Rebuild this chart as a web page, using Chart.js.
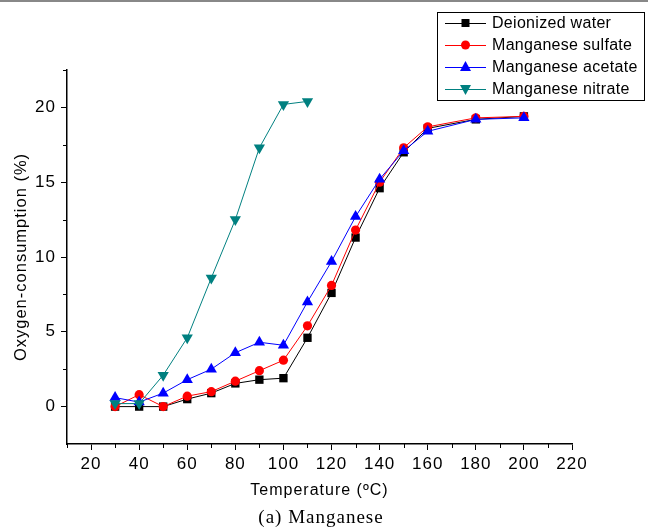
<!DOCTYPE html>
<html>
<head>
<meta charset="utf-8">
<script src="https://cdn.jsdelivr.net/npm/chart.js@4.4.1/dist/chart.umd.min.js"></script>
<style>
  html, body { margin: 0; padding: 0; background: #fff; }
  canvas { display: block; }
</style>
</head>
<body>
<canvas id="line-chart" width="648" height="531"></canvas>
<script>
// temperatures (ºC)
var temps = [30, 40, 50, 60, 70, 80, 90, 100, 110, 120, 130, 140, 150, 160, 180, 200];
var tempsNitrate = [30, 40, 50, 60, 70, 80, 90, 100, 110];

// oxygen consumption (%)
var deionizedWater = [0.0, 0.0, 0.0, 0.5, 0.9, 1.55, 1.8, 1.9, 4.6, 7.6, 11.3, 14.6, 17.0, 18.6, 19.2, 19.4];
var mnSulfate = [0.0, 0.8, 0.0, 0.7, 1.0, 1.7, 2.4, 3.1, 5.4, 8.1, 11.8, 15.0, 17.3, 18.7, 19.3, 19.4];
var mnAcetate = [0.6, 0.3, 0.9, 1.8, 2.5, 3.6, 4.3, 4.1, 7.0, 9.7, 12.7, 15.2, 17.1, 18.4, 19.2, 19.3];
var mnNitrate = [0.2, 0.2, 2.1, 4.6, 8.6, 12.5, 17.3, 20.2, 20.4];

var seriesLabels = ['Deionized water', 'Manganese sulfate', 'Manganese acetate', 'Manganese nitrate'];
var xTicks = [20, 40, 60, 80, 100, 120, 140, 160, 180, 200, 220];
var yTicks = [0, 5, 10, 15, 20];

var FONT = 'Arial, "Liberation Sans", sans-serif';

function toPoints(xs, ys) {
    return ys.map(function (v, i) { return { x: xs[i], y: v }; });
}

function drawMarker(ctx, style, x, y, color) {
    ctx.save();
    ctx.fillStyle = color;
    ctx.beginPath();
    if (style === 'rect') {
        ctx.rect(x - 4, y - 4, 8, 8);
    } else if (style === 'circle') {
        ctx.arc(x, y, 4.5, 0, Math.PI * 2);
    } else if (style === 'up') {
        ctx.moveTo(x, y - 6);
        ctx.lineTo(x + 5.5, y + 4);
        ctx.lineTo(x - 5.5, y + 4);
    } else {
        ctx.moveTo(x, y + 6);
        ctx.lineTo(x + 5.5, y - 4);
        ctx.lineTo(x - 5.5, y - 4);
    }
    ctx.closePath();
    ctx.fill();
    ctx.restore();
}

var markerStyles = ['rect', 'circle', 'up', 'down'];
var colors = ['#000000', '#ff0000', '#0000ff', '#008080'];

// minor ticks, legend box, caption
var extras = {
    id: 'extras',
    beforeDraw: function (chart) {
        // the original figure has loosely spaced lettering
        chart.ctx.letterSpacing = '1px';
    },
    afterDraw: function (chart) {
        var ctx = chart.ctx;
        var xs = chart.scales.x, ys = chart.scales.y;
        var area = chart.chartArea;
        ctx.save();
        ctx.strokeStyle = '#000';
        ctx.lineWidth = 1;
        // minor ticks
        [2.5, 7.5, 12.5, 17.5, 22.5].forEach(function (v) {
            var py = Math.round(ys.getPixelForValue(v)) + 0.5;
            ctx.beginPath();
            ctx.moveTo(area.left - 4, py);
            ctx.lineTo(area.left, py);
            ctx.stroke();
        });
        [10, 30, 50, 70, 90, 110, 130, 150, 170, 190, 210].forEach(function (v) {
            var px = Math.round(xs.getPixelForValue(v)) + 0.5;
            ctx.beginPath();
            ctx.moveTo(px, area.bottom);
            ctx.lineTo(px, area.bottom + 4);
            ctx.stroke();
        });

        // top border of the figure
        ctx.strokeStyle = '#888';
        ctx.lineWidth = 2;
        ctx.beginPath();
        ctx.moveTo(0, 1);
        ctx.lineTo(648, 1);
        ctx.stroke();

        // legend
        ctx.strokeStyle = '#000';
        ctx.lineWidth = 1;
        ctx.strokeRect(437.5, 12.5, 207, 88);
        ctx.letterSpacing = '0.3px';
        ctx.font = '16px ' + FONT;
        ctx.textBaseline = 'middle';
        ctx.textAlign = 'left';
        seriesLabels.forEach(function (lab, i) {
            var ly = 23 + i * 22;
            ctx.strokeStyle = colors[i];
            ctx.beginPath();
            ctx.moveTo(445, ly + 0.5);
            ctx.lineTo(486, ly + 0.5);
            ctx.stroke();
            drawMarker(ctx, markerStyles[i], 465.5, ly, colors[i]);
            ctx.fillStyle = '#000';
            ctx.fillText(lab, 492, ly + 1);
        });

        // caption
        ctx.letterSpacing = '1px';
        ctx.font = '19px "Liberation Serif", "Times New Roman", serif';
        ctx.textAlign = 'center';
        ctx.fillStyle = '#000';
        ctx.fillText('(a) Manganese', 321, 518);
        ctx.restore();
    }
};

var ds = [
    { data: toPoints(temps, deionizedWater), pointStyle: 'rect', pointRadius: 5.9, rotation: 0 },
    { data: toPoints(temps, mnSulfate), pointStyle: 'circle', pointRadius: 4.6, rotation: 0 },
    { data: toPoints(temps, mnAcetate), pointStyle: 'triangle', pointRadius: 6.5, rotation: 0 },
    { data: toPoints(tempsNitrate, mnNitrate), pointStyle: 'triangle', pointRadius: 6.5, rotation: 180 }
];

new Chart(document.getElementById('line-chart'), {
    type: 'line',
    data: {
        datasets: ds.map(function (d, i) {
            return {
                label: seriesLabels[i],
                data: d.data,
                order: 4 - i, // later series painted over earlier ones
                borderColor: colors[i],
                backgroundColor: colors[i],
                borderWidth: 1,
                pointStyle: d.pointStyle,
                pointRadius: d.pointRadius,
                pointRotation: d.rotation,
                pointBorderWidth: 0,
                tension: 0
            };
        })
    },
    options: {
        responsive: false,
        animation: false,
        devicePixelRatio: 1,
        layout: { padding: { left: 8, right: 76, top: 70, bottom: 27 } },
        plugins: {
            legend: { display: false },
            tooltip: { enabled: false }
        },
        scales: {
            x: {
                type: 'linear',
                min: 10,
                max: 220,
                afterBuildTicks: function (scale) {
                    scale.ticks = xTicks.map(function (v) { return { value: v }; });
                },
                afterFit: function (scale) { scale.height = 60; },
                grid: { display: true, drawOnChartArea: false, drawTicks: true, tickLength: 6, color: '#000', lineWidth: 1 },
                border: { display: true, color: '#000', width: 1.5 },
                ticks: { color: '#000', font: { size: 17, family: FONT }, padding: 4, maxRotation: 0 },
                title: { display: true, text: 'Temperature (ºC)', color: '#000', font: { size: 16, family: FONT }, padding: { top: 0, bottom: 4 } }
            },
            y: {
                type: 'linear',
                min: -2.5,
                max: 22.5,
                afterBuildTicks: function (scale) {
                    scale.ticks = yTicks.map(function (v) { return { value: v }; });
                },
                afterFit: function (scale) { scale.width = 59; },
                grid: { display: true, drawOnChartArea: false, drawTicks: true, tickLength: 6, color: '#000', lineWidth: 1 },
                border: { display: true, color: '#000', width: 1.5 },
                ticks: { color: '#000', font: { size: 17, family: FONT }, padding: 5 },
                title: { display: true, text: 'Oxygen-consumption (%)', color: '#000', font: { size: 16.5, family: FONT }, padding: { top: 4, bottom: 0 } }
            }
        }
    },
    plugins: [extras]
});
</script>
</body>
</html>
